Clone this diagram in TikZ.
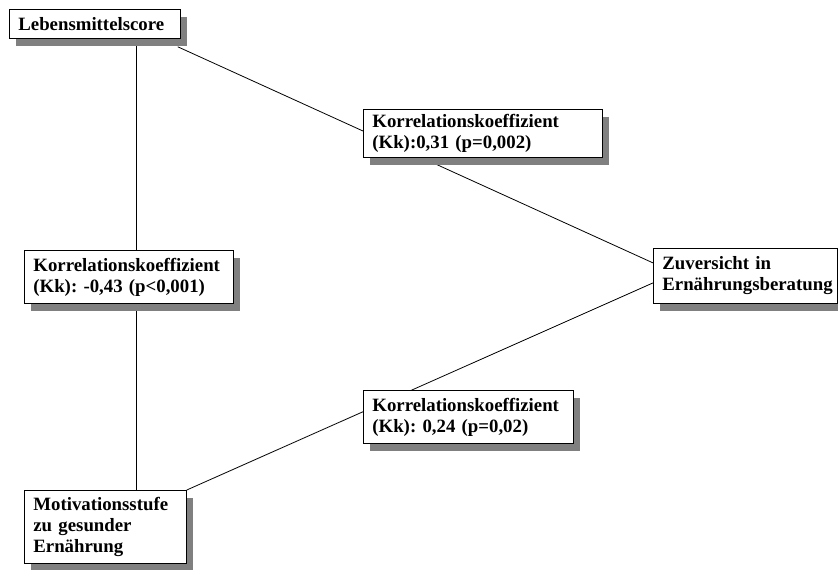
\documentclass[tikz,border=0pt]{standalone}
\usepackage{fontspec}
\setmainfont{Liberation Serif}
\usetikzlibrary{shadows,backgrounds}
\definecolor{shadowgray}{RGB}{128,128,128}
\tikzset{
  corrbox/.style={draw, fill=white, line width=0.8pt, anchor=north west, align=left,
    inner xsep=9pt, inner ysep=2pt, font=\bfseries\fontsize{18.8}{21}\selectfont\frenchspacing,
    drop shadow={shadow xshift=7pt, shadow yshift=-8pt, fill=shadowgray, opacity=1}},
  link/.style={line width=0.8pt}
}

\begin{document}
\begin{tikzpicture}[x=1pt,y=-1pt]
  \useasboundingbox (0,0) rectangle (838,570);
  % main boxes
  \node[corrbox, text width=153pt, minimum height=29pt] (leb) at (9,9) {Lebensmittelscore};
  \node[corrbox, text width=166pt, minimum height=55pt] (zuv) at (653,248) {Zuversicht in\\Ernährungsberatung};
  \node[corrbox, text width=144pt, minimum height=73pt] (mot) at (24,490) {Motivationsstufe\\zu gesunder\\Ernährung};
  \coordinate (vx) at (136,0);
  % connectors behind the boxes
  \begin{scope}[on background layer]
    \draw[link] (leb.south -| vx) -- (mot.north -| vx);
    \draw[link] ([xshift=-3pt,yshift=-8pt]leb.south east) -- ([yshift=13pt]zuv.west);
    \draw[link] (mot.north east) -- ([yshift=-7pt]zuv.west);
  \end{scope}
  % coefficients
  \node[corrbox, text width=221pt, minimum height=48pt] (kk31) at (363,109) {Korrelationskoeffizient\\(Kk):0,31 (p=0,002)};
  \node[corrbox, text width=191pt, minimum height=53pt] (kk43) at (24,250) {Korrelationskoeffizient\\(Kk): -0,43 (p<0,001)};
  \node[corrbox, text width=192pt, minimum height=53pt] (kk24) at (363,390) {Korrelationskoeffizient\\(Kk): 0,24 (p=0,02)};
\end{tikzpicture}
\end{document}
